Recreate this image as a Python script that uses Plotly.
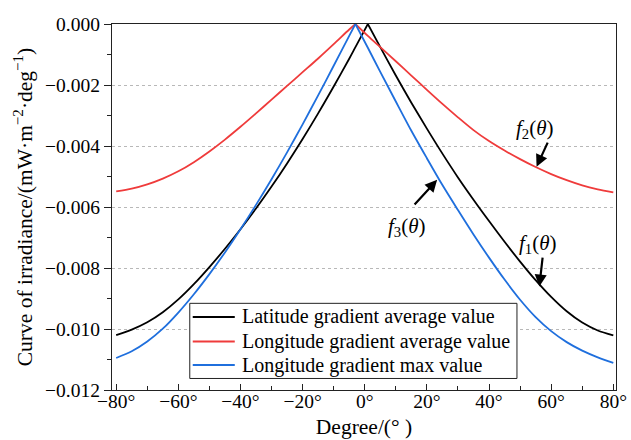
import plotly.graph_objects as go

# ---- data ----
degrees = [-80, -75, -70, -65, -60, -55, -50, -45, -40, -35, -30, -25, -20, -15, -10, -5, -3,
           1, 5, 10, 15, 20, 25, 30, 35, 40, 45, 50, 55, 60, 65, 70, 75, 80]

latitude_avg = [-0.01020, -0.01002, -0.00978, -0.00945, -0.00903, -0.00853, -0.00797, -0.00737,
                -0.00673, -0.00605, -0.00533, -0.00457, -0.00377, -0.00293, -0.00205, -0.00114,
                -0.00076, 0.0, -0.00076, -0.00169, -0.00258, -0.00343, -0.00425, -0.00503,
                -0.00576, -0.00646, -0.00714, -0.00779, -0.00840, -0.00895, -0.00942, -0.00979,
                -0.01005, -0.01021]

longitude_avg = [-0.00549, -0.00540, -0.00526, -0.00507, -0.00483, -0.00453, -0.00418, -0.00379,
                 -0.00337, -0.00293, -0.00248, -0.00203, -0.00158, -0.00113, -0.00066, -0.00018,
                 0.0, -0.00039, -0.00076, -0.00122, -0.00169, -0.00216, -0.00262, -0.00306,
                 -0.00348, -0.00384, -0.00415, -0.00443, -0.00469, -0.00492, -0.00512, -0.00529,
                 -0.00542, -0.00552]

longitude_max = [-0.01095, -0.01073, -0.01041, -0.00999, -0.00946, -0.00886, -0.00820, -0.00749,
                 -0.00673, -0.00593, -0.00509, -0.00421, -0.00329, -0.00234, -0.00137, -0.00039,
                 0.0, -0.00078, -0.00157, -0.00254, -0.00350, -0.00440, -0.00528, -0.00610,
                 -0.00690, -0.00766, -0.00838, -0.00904, -0.00961, -0.01007, -0.01043, -0.01071,
                 -0.01093, -0.01111]

series_names = ["Latitude gradient average value",
                "Longitude gradient average value",
                "Longitude gradient max value"]

x_tick_vals = [-80, -60, -40, -20, 0, 20, 40, 60, 80]
x_tick_text = ["−80°", "−60°", "−40°", "−20°", "0°", "20°", "40°", "60°", "80°"]
y_tick_vals = [0.0, -0.002, -0.004, -0.006, -0.008, -0.010, -0.012]
y_tick_text = ["0.000", "−0.002", "−0.004", "−0.006", "−0.008", "−0.010", "−0.012"]

FONT = "Liberation Serif, Times New Roman, serif"
colors = ["#000000", "#ef3b3b", "#1f6fdd"]

fig = go.Figure()
for name, vals, col in zip(series_names, [latitude_avg, longitude_avg, longitude_max], colors):
    peak = max(range(len(vals)), key=lambda i: vals[i])
    # left branch and right branch, each smoothed, meeting at the sharp peak
    for xs, ys in ((degrees[:peak + 1], vals[:peak + 1]), (degrees[peak:], vals[peak:])):
        fig.add_trace(go.Scatter(x=xs, y=ys, mode="lines", name=name, showlegend=False,
                                 line=dict(color=col, width=1.8, shape="spline", smoothing=0.8)))

# annotations: curve labels and arrows
labels = [
    dict(text="<i>f</i><sub>2</sub>(<i>θ</i>)", x=54.8, y=-0.00344,
         head=(55.3, -0.00468), tail=(59.1, -0.00384)),
    dict(text="<i>f</i><sub>1</sub>(<i>θ</i>)", x=55.8, y=-0.00721,
         head=(56.2, -0.00861), tail=(57.3, -0.00761)),
    dict(text="<i>f</i><sub>3</sub>(<i>θ</i>)", x=13.6, y=-0.00666,
         head=(23.3, -0.00511), tail=(15.6, -0.00597)),
]
for lab in labels:
    fig.add_annotation(x=lab["x"], y=lab["y"], text=lab["text"], showarrow=False,
                       font=dict(family=FONT, size=21, color="black"))
    fig.add_annotation(x=lab["head"][0], y=lab["head"][1], ax=lab["tail"][0], ay=lab["tail"][1],
                       axref="x", ayref="y", text="", showarrow=True, arrowhead=2,
                       arrowsize=1.1, arrowwidth=2.2, arrowcolor="black")

# legend box (compact, as in the reference)
leg_x0, leg_x1, leg_y0, leg_y1 = 0.1543, 0.8035, 0.0315, 0.2368
row_y = [0.1995, 0.1325, 0.0683]
fig.add_shape(type="rect", xref="paper", yref="paper", x0=leg_x0, x1=leg_x1, y0=leg_y0, y1=leg_y1,
              line=dict(color="#222", width=1), fillcolor="white", layer="above")
for name, col, ry in zip(series_names, colors, row_y):
    fig.add_shape(type="line", xref="paper", yref="paper", x0=0.1602, x1=0.2436, y0=ry, y1=ry,
                  line=dict(color=col, width=1.8), layer="above")
    fig.add_annotation(xref="paper", yref="paper", x=0.2536, y=ry, xanchor="left", yanchor="middle",
                       text=name, showarrow=False, font=dict(family=FONT, size=20, color="black"))

fig.update_layout(
    template="none",
    width=631, height=440,
    margin=dict(l=112, r=15, t=24, b=50, autoexpand=False),
    paper_bgcolor="white", plot_bgcolor="white",
    font=dict(family=FONT, size=19, color="black"),
    showlegend=False,
)
fig.update_xaxes(
    range=[-81.35, 80.87], tickmode="array", tickvals=x_tick_vals, ticktext=x_tick_text,
    ticks="inside", ticklen=6, tickwidth=1.2, tickcolor="#222",
    minor=dict(ticks="inside", ticklen=3.5, dtick=10, tick0=0, tickcolor="#222", showgrid=False),
    showline=True, linecolor="#222", linewidth=1.3, mirror=True,
    showgrid=False, zeroline=False, automargin=False,
    tickfont=dict(family=FONT, size=19.5), ticklabelstandoff=-7,
    title=dict(text="Degree/(° )", font=dict(family=FONT, size=21.5), standoff=8),
)
fig.update_yaxes(
    range=[-0.012, 0.0], tickmode="array", tickvals=y_tick_vals, ticktext=y_tick_text,
    ticks="outside", ticklen=7, tickwidth=1.2, tickcolor="#222",
    minor=dict(ticks="outside", ticklen=4, dtick=0.001, tick0=0, tickcolor="#222", showgrid=False),
    showline=True, linecolor="#222", linewidth=1.3, mirror=True,
    showgrid=True, gridcolor="#b8b8b8", griddash="dot", gridwidth=1, zeroline=False,
    automargin=False,
    tickfont=dict(family=FONT, size=19.5),
    title=dict(text="Curve of irradiance/(mW·m<sup>−2</sup>·deg<sup>−1</sup>)",
               font=dict(family=FONT, size=21.5), standoff=6),
)

fig.write_html("out.html", config={"displayModeBar": False},
               post_script="document.body.style.margin='0';")
